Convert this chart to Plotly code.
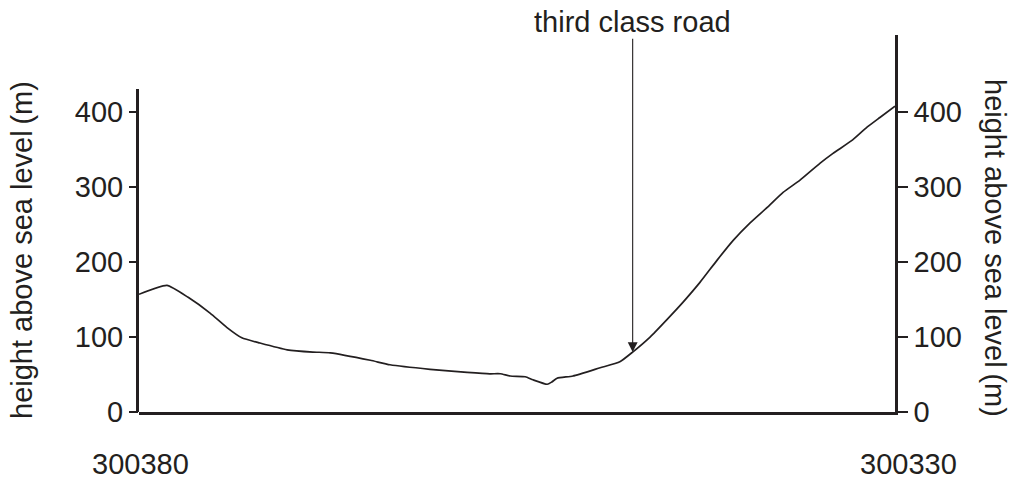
import plotly.graph_objects as go

# Profile data: distance along section (% of section length) and height (m)
distance = [0, 3.7, 6.5, 9.4, 11.6, 13.6, 16.0, 19.6, 23.0, 25.3, 30.6, 33.2, 38.5,
            43.4, 46.4, 47.8, 49.1, 51.1, 52.1, 54.0, 54.6, 55.3, 57.4, 61.0, 63.6,
            65.3, 67.6, 69.8, 72.0, 74.2, 76.5, 78.6, 80.8, 83.1, 85.2, 87.4, 90.1,
            91.8, 94.4, 96.3, 98.0, 100]
height = [157, 169, 153, 132, 113, 99, 92, 83, 80, 79, 69, 63, 57,
          53, 51, 51, 48, 47, 43, 37, 40, 45, 48, 59, 67,
          80, 100, 123, 147, 173, 203, 229, 252, 273, 293, 309, 332,
          345, 363, 380, 393, 408]

y_ticks = [0, 100, 200, 300, 400]
end_labels = ["300380", "300330"]
road_label = "third class road"
road_distance = 65.3
road_height = 80
axis_title = "height above sea level\u2009(m)"

INK = "#231f20"
FONT = "Liberation Sans, Arial, sans-serif"
FS = 29

W, H = 1011, 481
ML, MR, MT, MB = 139, 116, 35, 69
pw, ph = W - ML - MR, H - MT - MB
Y_MAX = 503
LEFT_AXIS_TOP = 431


def px(xp):
    return (xp - ML) / pw


def py(yp):
    return (H - MB - yp) / ph


fig = go.Figure()
fig.add_trace(go.Scatter(
    x=distance, y=height, mode="lines",
    line=dict(color=INK, width=1.7, shape="spline", smoothing=0.5),
    hoverinfo="skip", showlegend=False,
))
fig.add_trace(go.Scatter(x=[None], y=[None], yaxis="y2", showlegend=False))
fig.add_trace(go.Scatter(x=[None], y=[None], yaxis="y3", showlegend=False))

fig.update_layout(
    width=W, height=H,
    margin=dict(l=ML, r=MR, t=MT, b=MB),
    paper_bgcolor="white", plot_bgcolor="rgba(0,0,0,0)",
    font=dict(family=FONT, size=FS, color=INK),
    xaxis=dict(range=[0, 100], showgrid=False, zeroline=False,
               showticklabels=False, ticks="", showline=True,
               linecolor=INK, linewidth=2.6),
    yaxis=dict(range=[0, Y_MAX], tickvals=y_ticks, ticks="outside", ticklen=9,
               tickwidth=2.4, tickcolor=INK, showgrid=False, zeroline=False,
               showline=False, tickfont=dict(size=FS, color=INK)),
    yaxis2=dict(range=[0, Y_MAX], overlaying="y", side="right", tickvals=y_ticks,
                ticks="outside", ticklen=10, tickwidth=2.4, tickcolor=INK,
                showgrid=False, zeroline=False, showline=True, linecolor=INK,
                linewidth=2.6, tickfont=dict(size=FS, color=INK)),
    # short left axis line (ends above 400)
    yaxis3=dict(range=[0, LEFT_AXIS_TOP], domain=[0, LEFT_AXIS_TOP / Y_MAX],
                anchor="x", side="left", showline=True, linecolor=INK,
                linewidth=2.6, showticklabels=False, ticks="", showgrid=False,
                zeroline=False),
)

# arrow for road
fig.add_annotation(x=road_distance, y=road_height, ax=road_distance, ay=500,
                   xref="x", yref="y", axref="x", ayref="y", text="",
                   showarrow=True, arrowhead=2, arrowsize=1.8, arrowwidth=1.1,
                   arrowcolor=INK, standoff=0)
fig.add_annotation(x=road_distance, y=py(22), xref="x", yref="paper",
                   text=road_label, showarrow=False, yanchor="middle",
                   font=dict(size=FS, color=INK))

# end labels
fig.add_annotation(x=px(140), y=py(464), xref="paper", yref="paper", text=end_labels[0],
                   showarrow=False, xanchor="center", yanchor="middle",
                   font=dict(size=FS, color=INK))
fig.add_annotation(x=px(908), y=py(464), xref="paper", yref="paper", text=end_labels[1],
                   showarrow=False, xanchor="center", yanchor="middle",
                   font=dict(size=FS, color=INK))

# axis titles
fig.add_annotation(x=px(22), y=py(250), xref="paper", yref="paper", text=axis_title,
                   showarrow=False, textangle=-90, xanchor="center", yanchor="middle",
                   font=dict(size=FS, color=INK))
fig.add_annotation(x=px(995), y=py(248), xref="paper", yref="paper", text=axis_title,
                   showarrow=False, textangle=90, xanchor="center", yanchor="middle",
                   font=dict(size=FS, color=INK))

fig.write_html("out.html", config={"displayModeBar": False},
               post_script="document.body.style.margin='0';document.body.style.overflow='hidden';")
